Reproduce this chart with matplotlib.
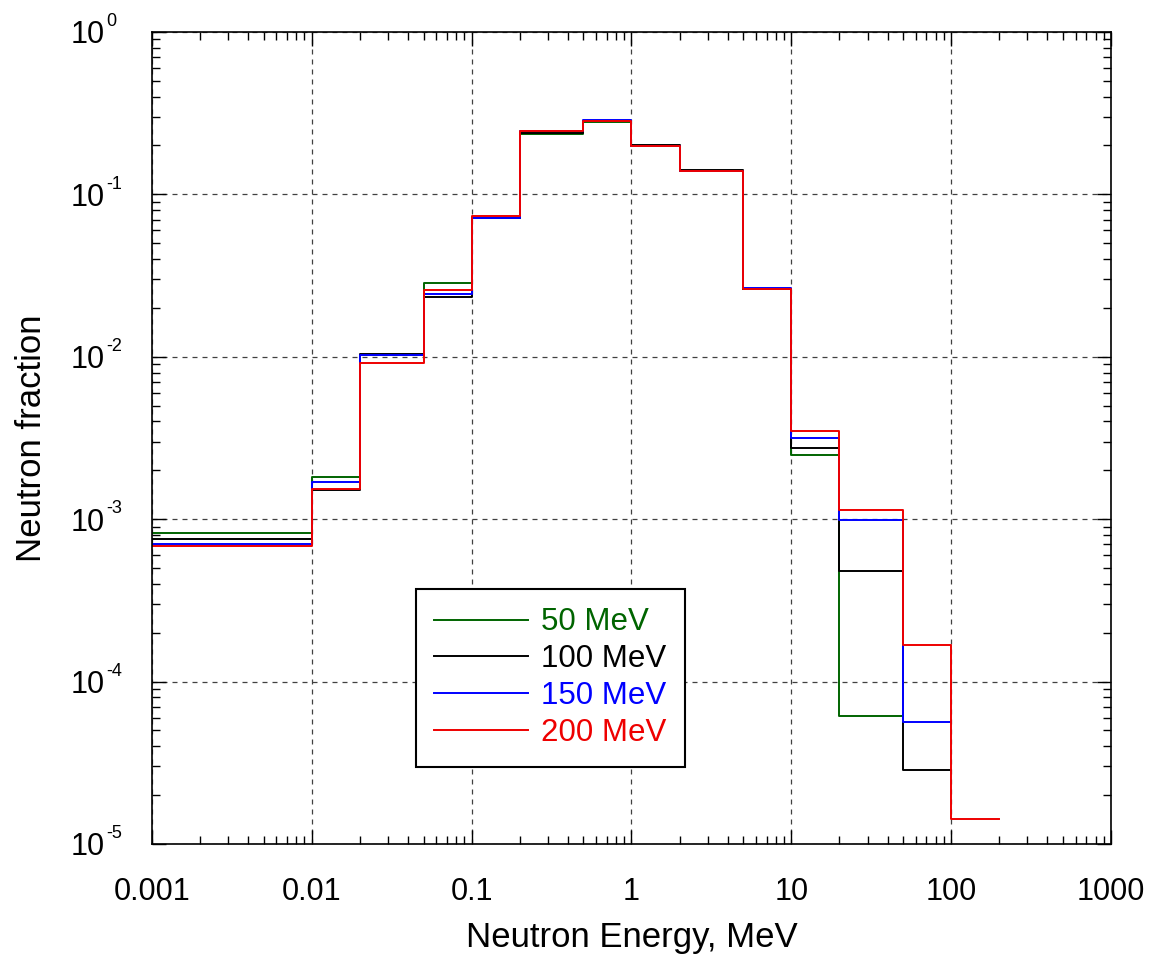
import matplotlib
matplotlib.use("Agg")
import matplotlib.pyplot as plt
import matplotlib.transforms as mtransforms
from matplotlib.ticker import LogLocator, FixedLocator, FixedFormatter, NullFormatter

plt.rcParams['font.family'] = ['Liberation Sans', 'DejaVu Sans']

# Energy bin edges (MeV)
edges = [0.001, 0.01, 0.02, 0.05, 0.1, 0.2, 0.5, 1, 2, 5, 10, 20, 50, 100, 200]

labels = ["50 MeV", "100 MeV", "150 MeV", "200 MeV"]
colors = ["#006400", "#000000", "#0000ff", "#ee0000"]

frac_50 = [8.27e-4, 1.83e-3, 1.03e-2, 2.86e-2, 7.2e-2, 0.2355, 0.28, 0.199, 0.14, 0.026, 2.48e-3, 6.1e-5]
frac_100 = [7.6e-4, 1.51e-3, 1.043e-2, 2.32e-2, 7.16e-2, 0.24, 0.283, 0.201, 0.141, 0.026, 2.73e-3, 4.83e-4, 2.85e-5]
frac_150 = [7.05e-4, 1.70e-3, 1.019e-2, 2.44e-2, 7.16e-2, 0.246, 0.286, 0.198, 0.139, 2.66e-2, 3.17e-3, 9.9e-4, 5.67e-5]
frac_200 = [6.82e-4, 1.54e-3, 9.09e-3, 2.59e-2, 7.36e-2, 0.246, 0.282, 0.198, 0.139, 2.6e-2, 3.47e-3, 1.14e-3, 1.68e-4, 1.42e-5]

series = [frac_50, frac_100, frac_150, frac_200]

xticks = [0.001, 0.01, 0.1, 1, 10, 100, 1000]
xticklabels = ["0.001", "0.01", "0.1", "1", "10", "100", "1000"]
yexponents = [0, -1, -2, -3, -4, -5]

fig = plt.figure(figsize=(11.53, 9.57), dpi=100)
ax = fig.add_axes([0.1318, 0.1181, 0.8318, 0.8485])

for vals, lab, col in zip(series, labels, colors):
    n = len(vals)
    xs = edges[:n + 1]
    ys = list(vals) + [vals[-1]]
    ax.step(xs, ys, where='post', color=col, lw=1.4, label=lab)

ax.set_xscale('log')
ax.set_yscale('log')
ax.set_xlim(0.001, 1000)
ax.set_ylim(1e-5, 1)

ax.xaxis.set_major_locator(FixedLocator(xticks))
ax.xaxis.set_major_formatter(FixedFormatter(xticklabels))
ax.xaxis.set_minor_locator(LogLocator(base=10, subs=range(2, 10), numticks=20))
ax.xaxis.set_minor_formatter(NullFormatter())
ax.yaxis.set_major_locator(FixedLocator([10.0 ** e for e in yexponents]))
ax.yaxis.set_major_formatter(NullFormatter())
ax.yaxis.set_minor_locator(LogLocator(base=10, subs=range(2, 10), numticks=20))
ax.yaxis.set_minor_formatter(NullFormatter())

ax.tick_params(which='both', direction='in', top=True, right=True, width=1.0, color='black')
ax.tick_params(which='major', length=10)
ax.tick_params(which='minor', length=6)
ax.tick_params(axis='x', which='major', labelsize=22, pad=24)

# y tick labels: "10" with a small superscript exponent
trans = mtransforms.blended_transform_factory(ax.transAxes, ax.transData)
for e in yexponents:
    base_tr = trans + mtransforms.ScaledTranslation(-47 / 100, -11.5 / 100, fig.dpi_scale_trans)
    ax.text(0, 10.0 ** e, "10", transform=base_tr, ha='right', va='baseline',
            fontsize=22, clip_on=False)
    sup_tr = trans + mtransforms.ScaledTranslation(-45.5 / 100, 5.7 / 100, fig.dpi_scale_trans)
    ax.text(0, 10.0 ** e, str(e), transform=sup_tr, ha='left',
            va='baseline', fontsize=13, clip_on=False)

for sp in ax.spines.values():
    sp.set_linewidth(1.2)
    sp.set_color('black')

ax.grid(True, which='major', color='0.25', linestyle=(0, (4, 4)), linewidth=0.9)

ax.set_xlabel("Neutron Energy, MeV", fontsize=25, labelpad=10)
ax.set_ylabel("Neutron fraction", fontsize=25, labelpad=71)

leg = ax.legend(loc='lower left', bbox_to_anchor=(0.275, 0.095), fontsize=22.5,
                labelcolor='linecolor', frameon=True, fancybox=False,
                handlelength=3.0, handletextpad=0.4, borderpad=0.6,
                labelspacing=0.22, borderaxespad=0)
leg.get_frame().set_edgecolor('black')
leg.get_frame().set_linewidth(1.5)
leg.get_frame().set_alpha(1)

fig.savefig("out.png", dpi=100)
